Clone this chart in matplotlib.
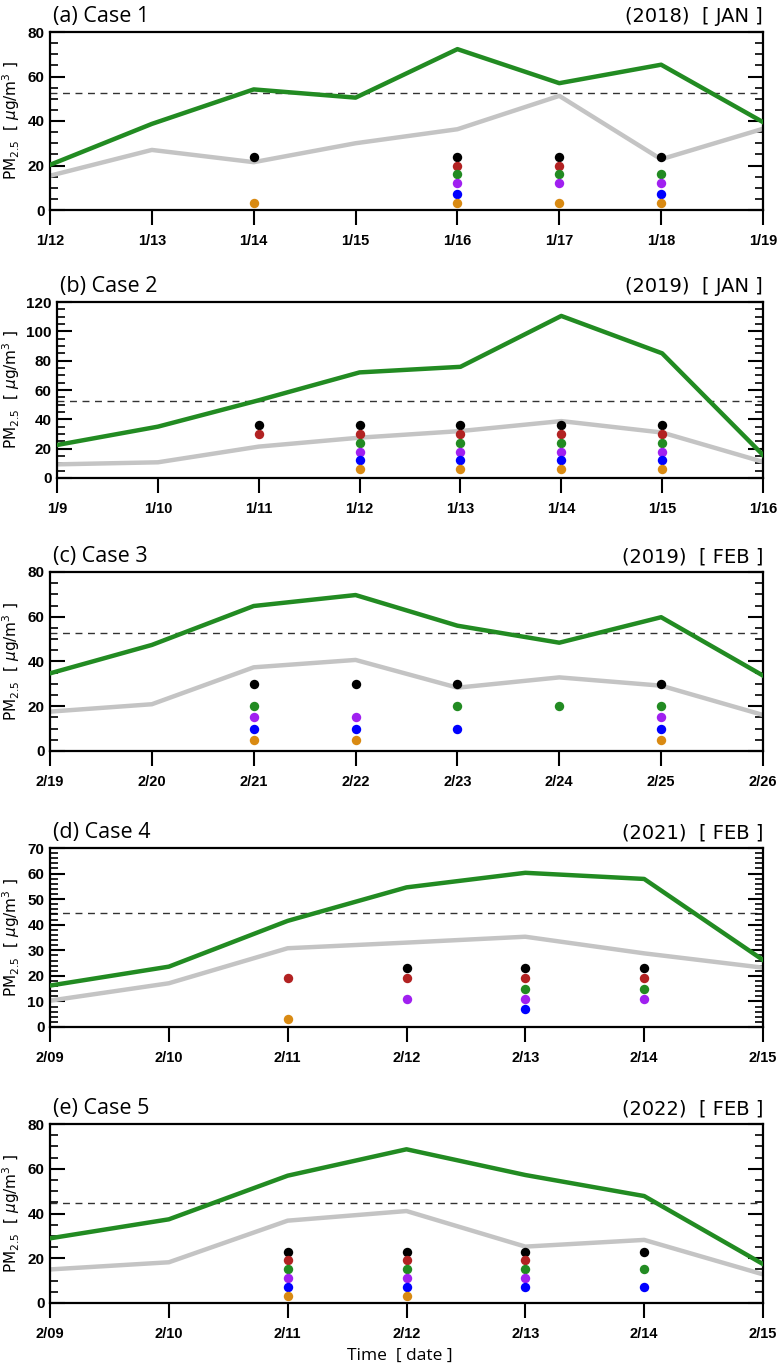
import numpy as np
import matplotlib
matplotlib.use('Agg')
import matplotlib.pyplot as plt
from matplotlib.ticker import MultipleLocator

# ==== data ====
a_dates = ['1/12', '1/13', '1/14', '1/15', '1/16', '1/17', '1/18', '1/19']
a_green = [20.3, 38.7, 54.2, 50.5, 72.3, 57.0, 65.3, 39.5]
a_gray = [15.4, 27.0, 21.5, 30.0, 36.3, 51.3, 22.8, 36.5]
a_levels = [24, 20, 16, 12, 7, 3]
a_marks = ['', '', 'KO', '', 'KRGPBO', 'KRGPO', 'KGPBO', '']

b_dates = ['1/9', '1/10', '1/11', '1/12', '1/13', '1/14', '1/15', '1/16']
b_green = [22.5, 35.0, 53.0, 72.0, 75.8, 110.5, 85.0, 15.7]
b_gray = [9.3, 10.7, 21.4, 27.5, 32.0, 38.8, 31.0, 11.0]
b_levels = [36, 30, 24, 18, 12, 6]
b_marks = ['', '', 'KR', 'KRGPBO', 'KRGPBO', 'KRGPBO', 'KRGPBO', '']

c_dates = ['2/19', '2/20', '2/21', '2/22', '2/23', '2/24', '2/25', '2/26']
c_green = [34.7, 47.4, 64.8, 69.7, 56.0, 48.4, 59.8, 33.7]
c_gray = [17.6, 20.9, 37.4, 40.7, 28.3, 32.9, 29.2, 16.1]
c_levels = [30, 25, 20, 15, 10, 5]
c_marks = ['', '', 'KGPBO', 'KPBO', 'KGB', 'G', 'KGPBO', '']

d_dates = ['2/09', '2/10', '2/11', '2/12', '2/13', '2/14', '2/15']
d_green = [16.2, 23.6, 41.5, 54.6, 60.3, 57.9, 26.2]
d_gray = [10.3, 17.1, 30.8, 33.0, 35.3, 28.8, 23.2]
d_levels = [23, 19, 15, 11, 7, 3]
d_marks = ['', '', 'RO', 'KRP', 'KRGPB', 'KRGP', '']

e_dates = ['2/09', '2/10', '2/11', '2/12', '2/13', '2/14', '2/15']
e_green = [28.9, 37.4, 56.9, 68.7, 57.2, 47.8, 17.4]
e_gray = [15.0, 18.2, 36.8, 41.1, 25.2, 28.2, 12.8]
e_levels = [23, 19, 15, 11, 7, 3]
e_marks = ['', '', 'KRGPBO', 'KRGPBO', 'KRGPB', 'KGB', '']

thresholds = [52.7, 52.7, 52.7, 44.7, 44.6]
titles = ['(a) Case 1', '(b) Case 2', '(c) Case 3', '(d) Case 4', '(e) Case 5']
periods = ['(2018)  [ JAN ]', '(2019)  [ JAN ]', '(2019)  [ FEB ]',
           '(2021)  [ FEB ]', '(2022)  [ FEB ]']

mark_codes = 'KRGPBO'
mark_colors = ['#000000', '#B22222', '#228B22', '#A020F0', '#0000FF', '#D98A12']

# ==== layout (pixels) ====
W, H = 782, 1368
boxes = [(50, 763, 32, 210), (57, 763, 302, 478), (50, 763, 572, 751),
         (50, 763, 848, 1027), (50, 763, 1124, 1303)]
ylims = [(80, 20, 5), (120, 20, 5), (80, 20, 5), (70, 10, 2), (80, 20, 5)]

panels = [(a_dates, a_green, a_gray, a_levels, a_marks),
          (b_dates, b_green, b_gray, b_levels, b_marks),
          (c_dates, c_green, c_gray, c_levels, c_marks),
          (d_dates, d_green, d_gray, d_levels, d_marks),
          (e_dates, e_green, e_gray, e_levels, e_marks)]

fig = plt.figure(figsize=(W / 100, H / 100), dpi=100)

for i, (dates, green, gray, levels, marks) in enumerate(panels):
    l, r, t, b = boxes[i]
    ax = fig.add_axes([l / W, 1 - b / H, (r - l) / W, (b - t) / H])
    x = np.arange(len(dates))

    ax.axhline(thresholds[i], color='#333333', lw=1.0, ls=(0, (5, 4)), zorder=1)
    ax.plot(x, gray, color='#C4C4C4', lw=3.2, solid_joinstyle='round', zorder=2)
    ax.plot(x, green, color='#228B22', lw=3.2, solid_joinstyle='round', zorder=3)

    for j, m in enumerate(marks):
        for code in m:
            k = mark_codes.index(code)
            ax.scatter(x[j], levels[k], s=46, color=mark_colors[k], lw=0, zorder=4)

    ymax, major, minor = ylims[i]
    ax.set_xlim(0, len(dates) - 1)
    ax.set_ylim(0, ymax)
    ax.set_xticks(x)
    ax.set_xticklabels(dates, fontsize=10.5, fontweight='bold', family='Liberation Sans')
    ax.yaxis.set_major_locator(MultipleLocator(major))
    ax.yaxis.set_minor_locator(MultipleLocator(minor))
    for lab in ax.get_yticklabels():
        lab.set_fontsize(11)
        lab.set_fontweight('bold')
        lab.set_family('Liberation Sans')
    ax.tick_params(axis='y', which='major', direction='in', left=True, right=True,
                   length=11, width=1.5, pad=4)
    ax.tick_params(axis='y', which='minor', direction='in', left=True, right=True,
                   length=6, width=1.2)
    ax.tick_params(axis='x', which='major', direction='out', length=11, width=1.5, pad=6)
    for sp in ax.spines.values():
        sp.set_linewidth(1.6)

    ax.set_ylabel(r'PM$_{2.5}$  [ $\mu$g/m$^3$ ]', fontsize=11)
    ax.yaxis.set_label_coords((22 - l) / (r - l), 0.5)
    ax.set_title(titles[i], loc='left', fontsize=15.5, family='Open Sans', pad=7, x=0.004)
    ax.set_title(periods[i], loc='right', fontsize=14, family='DejaVu Sans', pad=7)

fig.text(400 / W, 1 - 1356 / H, 'Time  [ date ]', ha='center', va='center',
         fontsize=12.5, family='Open Sans')

plt.savefig('out.png', dpi=100)
plt.close()
